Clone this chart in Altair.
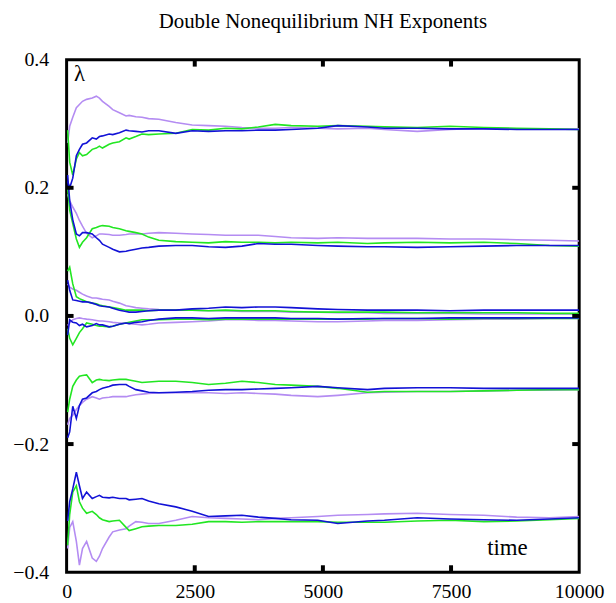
import altair as alt
import pandas as pd

# common time grid
time = [20, 60, 120, 190, 250, 310, 390, 500, 580, 640, 700, 830, 900, 1030, 1160,
        1220, 1350, 1470, 1600, 1800, 2130, 2450, 2770, 3100, 3420, 3740, 4070, 4380,
        4900, 5290, 5870, 6200, 6840, 7480, 8140, 8780, 9420, 10000]

green_1 = [0.29, 0.24, 0.22, 0.245, 0.255, 0.25, 0.252, 0.26, 0.262, 0.265, 0.262, 0.268, 0.27, 0.272,
           0.278, 0.276, 0.28, 0.284, 0.283, 0.284, 0.285, 0.291, 0.29, 0.293, 0.292, 0.295, 0.299, 0.297,
           0.296, 0.297, 0.296, 0.295, 0.294, 0.296, 0.294, 0.293, 0.292, 0.291]
blue_1 = [0.21, 0.2, 0.215, 0.25, 0.26, 0.268, 0.27, 0.278, 0.276, 0.28, 0.281, 0.284, 0.283, 0.286,
          0.29, 0.289, 0.288, 0.287, 0.289, 0.289, 0.285, 0.289, 0.288, 0.289, 0.289, 0.29, 0.29, 0.291,
          0.293, 0.297, 0.295, 0.293, 0.293, 0.292, 0.292, 0.291, 0.291, 0.291]
violet_1 = [0.27, 0.296, 0.31, 0.325, 0.33, 0.335, 0.338, 0.34, 0.343, 0.34, 0.335, 0.327, 0.322, 0.317,
            0.312, 0.313, 0.311, 0.31, 0.308, 0.307, 0.302, 0.298, 0.297, 0.296, 0.294, 0.293, 0.293, 0.294,
            0.293, 0.292, 0.293, 0.291, 0.288, 0.291, 0.293, 0.292, 0.292, 0.292]

green_2 = [0.2, 0.165, 0.144, 0.12, 0.107, 0.115, 0.122, 0.136, 0.138, 0.14, 0.141, 0.14, 0.138, 0.136,
           0.133, 0.132, 0.13, 0.128, 0.123, 0.118, 0.116, 0.115, 0.114, 0.116, 0.115, 0.115, 0.114, 0.115,
           0.114, 0.115, 0.113, 0.114, 0.115, 0.114, 0.115, 0.113, 0.11, 0.109]
blue_2 = [0.22, 0.18, 0.15, 0.128, 0.125, 0.13, 0.13, 0.128, 0.122, 0.118, 0.112, 0.107, 0.104, 0.1,
          0.101, 0.102, 0.104, 0.106, 0.107, 0.109, 0.11, 0.11, 0.108, 0.107, 0.109, 0.113, 0.112, 0.112,
          0.11, 0.109, 0.108, 0.108, 0.107, 0.108, 0.109, 0.11, 0.11, 0.11]
violet_2 = [0.19, 0.18, 0.17, 0.16, 0.149, 0.14, 0.129, 0.122, 0.125, 0.128, 0.128, 0.127, 0.126, 0.126,
            0.127, 0.128, 0.128, 0.128, 0.129, 0.13, 0.129, 0.128, 0.127, 0.126, 0.126, 0.126, 0.124, 0.122,
            0.121, 0.122, 0.121, 0.121, 0.121, 0.12, 0.12, 0.119, 0.118, 0.117]

green_3 = [0.07, 0.076, 0.05, 0.03, 0.027, 0.025, 0.022, 0.02, 0.019, 0.017, 0.016, 0.014, 0.013, 0.011,
           0.009, 0.009, 0.009, 0.009, 0.008, 0.009, 0.009, 0.009, 0.008, 0.009, 0.008, 0.008, 0.008, 0.007,
           0.006, 0.006, 0.006, 0.006, 0.005, 0.005, 0.005, 0.005, 0.004, 0.004]
blue_3 = [0.056, 0.04, 0.025, 0.024, 0.023, 0.022, 0.022, 0.02, 0.018, 0.016, 0.015, 0.014, 0.012, 0.009,
          0.007, 0.006, 0.006, 0.007, 0.008, 0.009, 0.009, 0.011, 0.012, 0.014, 0.013, 0.014, 0.014, 0.013,
          0.011, 0.01, 0.009, 0.009, 0.009, 0.008, 0.009, 0.009, 0.009, 0.009]
violet_3 = [0.05, 0.045, 0.042, 0.04, 0.037, 0.034, 0.031, 0.028, 0.028, 0.027, 0.026, 0.025, 0.023, 0.02,
            0.016, 0.015, 0.013, 0.012, 0.011, 0.01, 0.009, 0.009, 0.008, 0.008, 0.007, 0.007, 0.007, 0.006,
            0.006, 0.005, 0.005, 0.004, 0.004, 0.004, 0.003, 0.003, 0.003, 0.003]

green_4 = [-0.02, -0.035, -0.045, -0.035, -0.026, -0.02, -0.011, -0.013, -0.015, -0.016, -0.016, -0.017,
           -0.016, -0.013, -0.011, -0.01, -0.008, -0.006, -0.006, -0.006, -0.005, -0.005, -0.006, -0.005,
           -0.005, -0.005, -0.005, -0.005, -0.005, -0.005, -0.005, -0.004, -0.004, -0.005, -0.004, -0.004,
           -0.004, -0.004]
blue_4 = [-0.03, -0.006, -0.01, -0.011, -0.015, -0.013, -0.017, -0.015, -0.012, -0.014, -0.014, -0.017,
          -0.016, -0.013, -0.011, -0.012, -0.01, -0.009, -0.007, -0.005, -0.003, -0.003, -0.004, -0.003,
          -0.003, -0.003, -0.003, -0.004, -0.004, -0.005, -0.004, -0.004, -0.004, -0.003, -0.003, -0.003,
          -0.003, -0.003]
violet_4 = [-0.015, -0.011, -0.006, -0.004, -0.003, -0.004, -0.005, -0.006, -0.007, -0.008, -0.008, -0.009,
            -0.01, -0.011, -0.011, -0.012, -0.013, -0.014, -0.013, -0.011, -0.01, -0.009, -0.008, -0.006,
            -0.006, -0.007, -0.007, -0.008, -0.009, -0.009, -0.008, -0.007, -0.007, -0.006, -0.005, -0.005,
            -0.004, -0.004]

green_5 = [-0.15, -0.13, -0.11, -0.1, -0.094, -0.093, -0.092, -0.104, -0.1, -0.099, -0.1, -0.101, -0.1,
           -0.099, -0.099, -0.1, -0.102, -0.104, -0.103, -0.102, -0.102, -0.104, -0.107, -0.105, -0.102,
           -0.104, -0.107, -0.108, -0.11, -0.113, -0.119, -0.118, -0.118, -0.118, -0.117, -0.116, -0.115, -0.115]
blue_5 = [-0.19, -0.181, -0.141, -0.16, -0.14, -0.13, -0.128, -0.12, -0.118, -0.115, -0.113, -0.11, -0.108,
          -0.107, -0.107, -0.11, -0.115, -0.117, -0.119, -0.12, -0.119, -0.118, -0.116, -0.115, -0.115,
          -0.114, -0.113, -0.112, -0.11, -0.112, -0.115, -0.113, -0.112, -0.112, -0.113, -0.113, -0.113, -0.113]
violet_5 = [-0.17, -0.16, -0.155, -0.146, -0.14, -0.135, -0.13, -0.126, -0.128, -0.13, -0.128, -0.127,
            -0.126, -0.126, -0.126, -0.125, -0.123, -0.122, -0.121, -0.12, -0.12, -0.12, -0.12, -0.121,
            -0.12, -0.121, -0.122, -0.124, -0.126, -0.124, -0.12, -0.119, -0.118, -0.118, -0.117, -0.116,
            -0.116, -0.115]

green_6 = [-0.358, -0.31, -0.275, -0.265, -0.29, -0.3, -0.308, -0.305, -0.31, -0.315, -0.318, -0.321,
           -0.32, -0.319, -0.33, -0.335, -0.332, -0.329, -0.328, -0.327, -0.327, -0.325, -0.321, -0.321,
           -0.322, -0.321, -0.321, -0.321, -0.321, -0.322, -0.322, -0.322, -0.32, -0.319, -0.321, -0.32,
           -0.318, -0.316]
blue_6 = [-0.32, -0.29, -0.27, -0.244, -0.265, -0.285, -0.275, -0.285, -0.282, -0.28, -0.283, -0.284,
          -0.283, -0.285, -0.285, -0.287, -0.286, -0.285, -0.289, -0.293, -0.298, -0.305, -0.313, -0.312,
          -0.311, -0.314, -0.316, -0.318, -0.319, -0.324, -0.32, -0.319, -0.315, -0.317, -0.318, -0.319,
          -0.317, -0.315]
violet_6 = [-0.363, -0.33, -0.321, -0.352, -0.389, -0.363, -0.352, -0.378, -0.383, -0.375, -0.363, -0.345,
            -0.337, -0.334, -0.332, -0.328, -0.321, -0.322, -0.324, -0.324, -0.319, -0.313, -0.315, -0.316,
            -0.317, -0.318, -0.316, -0.315, -0.313, -0.311, -0.31, -0.309, -0.308, -0.31, -0.311, -0.314,
            -0.315, -0.313]

y_ticks = [-0.2, 0.0, 0.2]
x_ticks = [2500, 5000, 7500]
x_labels = [0, 2500, 5000, 7500, 10000]
y_labels = [-0.4, -0.2, 0.0, 0.2, 0.4]
colors = ["violet", "green", "blue"]
color_values = ["#b48cf2", "#22e622", "#1212d6"]

series = {
    "violet": [violet_1, violet_2, violet_3, violet_4, violet_5, violet_6],
    "green": [green_1, green_2, green_3, green_4, green_5, green_6],
    "blue": [blue_1, blue_2, blue_3, blue_4, blue_5, blue_6],
}
rows = []
for ci, c in enumerate(colors):
    for k, vals in enumerate(series[c]):
        for t, v in zip(time, vals):
            rows.append({"time": t, "lam": v, "color": c, "sid": f"{c}{k+1}", "order": ci})
df = pd.DataFrame(rows)

W = H = 516
FONT = "Liberation Serif"

xs = alt.Scale(domain=[0, 10000], nice=False)
ys = alt.Scale(domain=[-0.4, 0.4], nice=False)
common_ax = dict(labelFont=FONT, labelFontSize=20, labelColor="black", ticks=False,
                 domain=False, grid=False, labelFlush=False)
ax_x = alt.Axis(values=x_labels, format="d", labelPadding=9, **common_ax)
ax_y = alt.Axis(values=y_labels, format=".1f", labelPadding=18, **common_ax)

lines = alt.Chart(df).mark_line(strokeWidth=1.6, clip=True).encode(
    x=alt.X("time:Q", scale=xs, title=None, axis=ax_x),
    y=alt.Y("lam:Q", scale=ys, title=None, axis=ax_y),
    color=alt.Color("color:N", scale=alt.Scale(domain=colors, range=color_values), legend=None),
    detail="sid:N",
    order=alt.Order("order:Q"),
)

ytdf = pd.DataFrame({"v": y_ticks})
xtdf = pd.DataFrame({"v": x_ticks})
tick_l = alt.Chart(ytdf).mark_rule(color="black", strokeWidth=4).encode(
    y=alt.Y("v:Q", scale=ys, title=None, axis=ax_y), x=alt.value(0), x2=alt.value(7))
tick_r = alt.Chart(ytdf).mark_rule(color="black", strokeWidth=4).encode(
    y=alt.Y("v:Q", scale=ys, title=None, axis=ax_y), x=alt.value(W), x2=alt.value(W - 7))
tick_t = alt.Chart(xtdf).mark_rule(color="black", strokeWidth=4).encode(
    x=alt.X("v:Q", scale=xs, title=None, axis=ax_x), y=alt.value(0), y2=alt.value(7))
tick_b = alt.Chart(xtdf).mark_rule(color="black", strokeWidth=4).encode(
    x=alt.X("v:Q", scale=xs, title=None, axis=ax_x), y=alt.value(H), y2=alt.value(H - 7))

ann = pd.DataFrame({"time": [250, 8600], "lam": [0.378, -0.362], "txt": ["λ", "time"]})
labels = alt.Chart(ann).mark_text(font=FONT, fontSize=23, color="black").encode(
    x=alt.X("time:Q", scale=xs, title=None, axis=ax_x),
    y=alt.Y("lam:Q", scale=ys, title=None, axis=ax_y), text="txt:N")

chart = alt.layer(lines, tick_l, tick_r, tick_t, tick_b, labels).properties(
    width=W, height=H,
    title=alt.TitleParams("Double Nonequilibrium NH Exponents", font=FONT, fontSize=21,
                          fontWeight="normal", color="black", offset=18, anchor="middle"),
    autosize=alt.AutoSizeParams(type="none"),
    padding={"left": 59, "top": 50, "right": 29, "bottom": 30},
).configure(background="white").configure_view(
    stroke="black", strokeWidth=3
).configure_axis(**common_ax)

chart.save("out.html", embed_options={"renderer": "svg", "actions": False})
